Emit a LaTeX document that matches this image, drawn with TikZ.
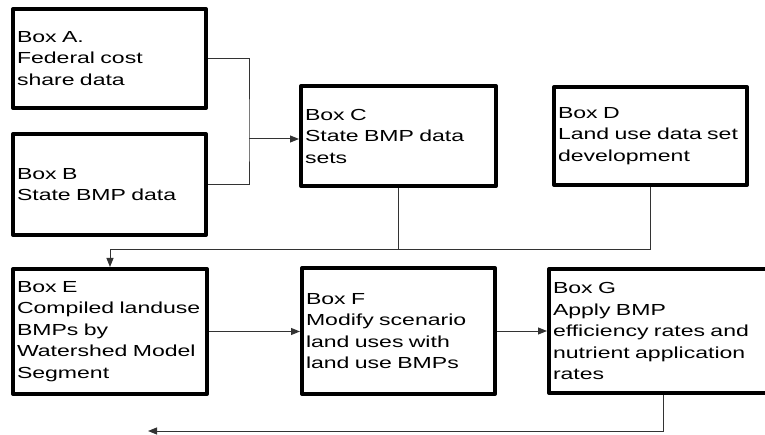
\documentclass[tikz,border=0pt]{standalone}
\usepackage{fontspec}
\setmainfont{Liberation Sans}[FakeStretch=1.44]
\usetikzlibrary{arrows.meta}
\begin{document}
\begin{tikzpicture}[x = 1pt, y = -1pt,
        databox/.style = {draw = black, line width = 4pt, line join = round, align = left, inner xsep = 4pt, inner ysep = 0pt, font = \fontsize{16}{21.5}\selectfont},
        link/.style = {draw = black!80, line width = 1pt},
        > = {Triangle[length = 9pt, width = 7pt]}]
            \useasboundingbox (0, 0) rectangle (765, 435);
            \clip (0, 0) rectangle (765, 435);

            \node[databox, text width = 185pt, minimum height = 99pt] (A) at (109.5, 58.5) {Box A.\\ Federal cost\\ share data};
            \node[databox, text width = 185pt, minimum height = 101pt] (B) at (109.5, 184.5) {Box B\\ State BMP data};
            \node[databox, text width = 187pt, minimum height = 100pt] (C) at (398.5, 136) {Box C\\ State BMP data\\ sets};
            \node[databox, text width = 185pt, minimum height = 98pt] (D) at (650.5, 136) {Box D\\ Land use data set\\ development};
            \node[databox, text width = 186pt, minimum height = 125pt] (E) at (110, 331.5) {Box E\\ Compiled landuse\\ BMPs by\\ Watershed Model\\ Segment};
            \node[databox, text width = 185pt, minimum height = 126pt] (F) at (398.5, 331) {Box F\\ Modify scenario\\ land uses with\\ land use BMPs};
            \node[databox, text width = 220pt, minimum height = 124pt] (G) at (663, 331) {Box G\\ Apply BMP\\ efficiency rates and\\ nutrient application\\ rates};

            \coordinate (bend) at (249, 139);
            \coordinate (join) at (398.5, 250);
            \coordinate (exit) at (148, 431);

            \draw[link] (A.east) -| (bend) |- (B.east);
            \draw[link, ->] (bend) -- (bend -| C.west);
            \draw[link] (D.south) |- (join);
            \draw[link, ->] (C.south) -- (join) -| (E.north);
            \draw[link, ->] (E.east) -- (E.east -| F.west);
            \draw[link, ->] (F.east) -- (F.east -| G.west);
            \draw[link, ->] (G.south) |- (exit);
        \end{tikzpicture}
\end{document}
